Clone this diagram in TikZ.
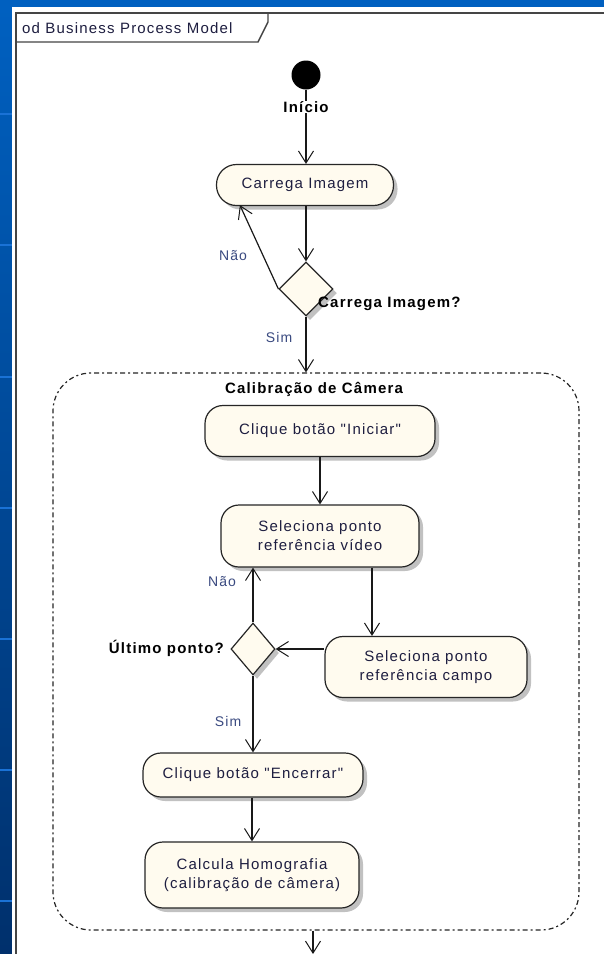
\documentclass[tikz,border=0pt]{standalone}
\usepackage{fontspec}
\setmainfont{Liberation Sans}
\newfontfamily\boxfont[LetterSpace=8]{Liberation Sans}
\usetikzlibrary{arrows.meta,shapes.geometric,shadows,calc}
\definecolor{cream}{HTML}{FFFBEF}
\definecolor{txt}{HTML}{1E1E40}
\definecolor{lbl}{HTML}{3A4A80}
\definecolor{bluetop}{HTML}{0060C0}
\definecolor{bluebot}{HTML}{00306C}
\definecolor{bluelin}{HTML}{1A72D6}
\definecolor{framec}{HTML}{454545}
\tikzset{
  act/.style={draw=black!85, line width=1.2pt, fill=cream, rounded corners=18pt,
    drop shadow={shadow xshift=4pt, shadow yshift=-4pt, fill=black!30, opacity=.8},
    align=center, inner sep=0pt, text=txt,
    font=\boxfont\fontsize{15}{19}\selectfont},
  dec/.style={diamond, draw=black!85, line width=1.2pt, fill=cream, inner sep=0pt,
    drop shadow={shadow xshift=4pt, shadow yshift=-4pt, fill=black!30, opacity=.8}},
  arr/.style={line width=1.2pt, draw=black!90,
    -{Straight Barb[length=12pt,width=15pt,line width=1pt]}},
  lab/.style={text=lbl, font=\boxfont\fontsize{14}{17}\selectfont, inner sep=0pt},
  blab/.style={text=black, font=\boxfont\bfseries\fontsize{15}{18}\selectfont, inner sep=0pt},
  regionbox/.style={draw=black!85, line width=1.2pt, rounded corners=38pt,
    dash pattern=on 5pt off 3pt on 2pt off 3pt, inner sep=0pt}
}
\begin{document}
\begin{tikzpicture}[x=1pt,y=-1pt]
\useasboundingbox (0,0) rectangle (604,954);
% background
\fill[bluetop] (0,0) rectangle (604,7);
\shade[top color=bluetop, bottom color=bluebot] (0,7) rectangle (12,954);
\foreach \yy in {113,244,376,507,638,769,900}
  \fill[bluelin] (0,\yy) rectangle (12,\yy+1.6);
\fill[white] (12,7) rectangle (604,954);
% frame
\draw[framec, line width=2pt] (16,954) -- (16,13) -- (604,13);
\draw[framec, line width=1.4pt] (16,42) -- (258,42) -- (268,22) -- (268,13);
\node[anchor=west, text=txt, font=\boxfont\fontsize{15}{18}\selectfont, inner sep=0pt] (title) at (22,28) {od Business Process Model};

% initial node
\node[circle, fill=black, minimum size=29pt, inner sep=0pt] (init) at (306,75) {};

% activities
\node[act, rounded corners=20pt, minimum width=177pt, minimum height=41pt] (carrega) at (305,185) {Carrega Imagem};
\node[dec, minimum width=54pt, minimum height=54pt] (dec1) at (306,289) {};

\node[regionbox, minimum width=526pt, minimum height=557pt] (region) at (316,651.5) {};
\node[blab] (regtitle) at (314,389) {Calibração de Câmera};

\node[act, minimum width=230pt, minimum height=51pt] (iniciar) at (320,431) {Clique botão "Iniciar"};
\node[act, minimum width=198pt, minimum height=62pt] (video) at (320,536) {Seleciona ponto\\referência vídeo};
\node[dec, minimum width=44pt, minimum height=52pt] (dec2) at (253,649) {};
\node[act, minimum width=202pt, minimum height=61pt] (campo) at (426,667) {Seleciona ponto\\referência campo};
\node[act, minimum width=220pt, minimum height=44pt] (encerrar) at (253,775) {Clique botão "Encerrar"};
\node[act, minimum width=214pt, minimum height=66pt] (homog) at (252,875) {Calcula Homografia\\(calibração de câmera)};

\coordinate (outend) at (313,954);
\coordinate (vc) at (372,0);

% connectors
\draw[arr] (init) -- (init |- carrega.north);
\node[blab, fill=white, inner sep=0.5pt] (initlbl) at (306,107) {Início};
\draw[arr] (carrega.south -| dec1.north) -- (dec1.north);
\draw[arr] (dec1.west) -- ([xshift=24pt,yshift=1pt]carrega.south west);
\draw[arr] (dec1.south) -- (dec1.south |- region.north);
\draw[arr] (iniciar.south) -- (video.north);
\draw[arr] (vc |- video.south) -- (vc |- campo.north);
\draw[arr] (dec2.east -| campo.west) -- (dec2.east);
\draw[arr] (dec2.north) -- (dec2.north |- video.south);
\draw[arr] (dec2.south) -- (dec2.south |- encerrar.north);
\draw[arr] (encerrar.south -| homog.north) -- (homog.north);
\draw[arr] (outend |- region.south) -- (outend);

% labels
\node[blab, anchor=west] (q1) at (318,304) {Carrega Imagem?};
\node[lab] (nao1) at (233,256) {Não};
\node[lab] (sim1) at (279,337) {Sim};
\node[blab, anchor=east] (q2) at (224,648) {Último ponto?};
\node[lab] (nao2) at (222,582) {Não};
\node[lab] (sim2) at (228,721) {Sim};
\end{tikzpicture}
\end{document}
